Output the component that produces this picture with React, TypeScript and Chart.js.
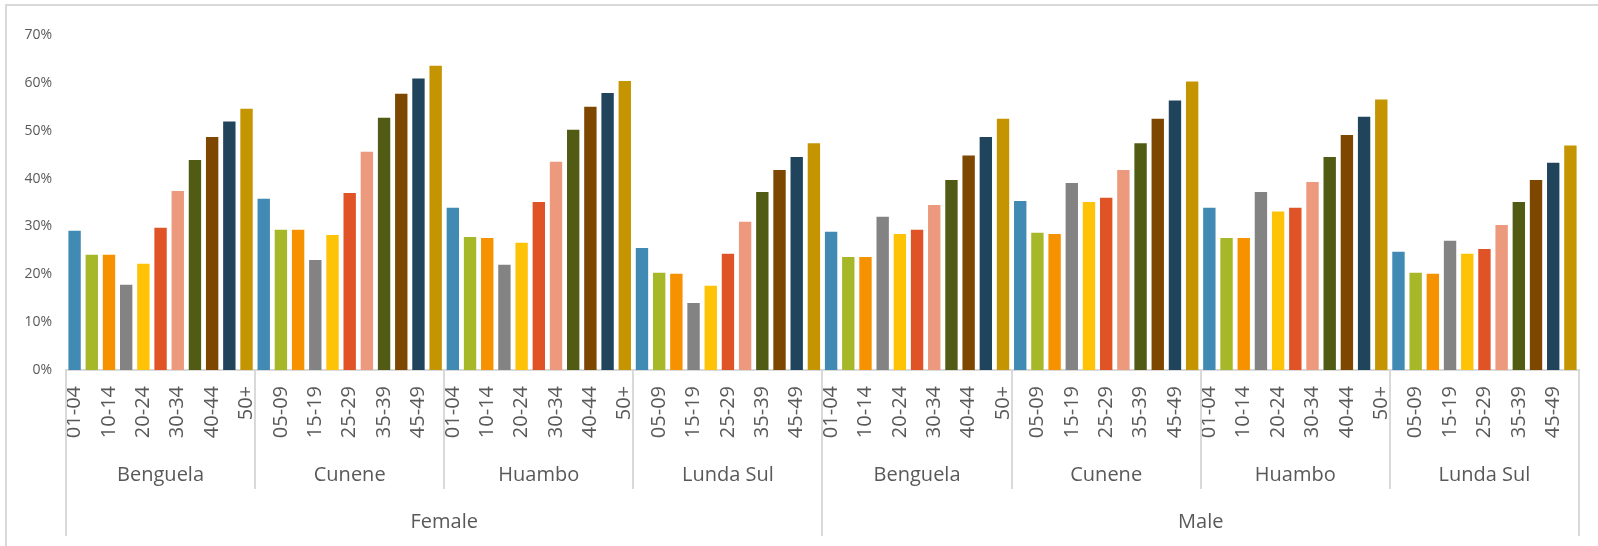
import React, { useEffect, useRef } from 'react';
import { Chart, registerables } from 'chart.js';

Chart.register(...registerables);

const sexes = ['Female', 'Male'];
const regions = ['Benguela', 'Cunene', 'Huambo', 'Lunda Sul'];
const ageGroups = ['01-04', '05-09', '10-14', '15-19', '20-24', '25-29', '30-34', '35-39', '40-44', '45-49', '50+'];
const ageColors = ['#418AB3', '#A6B727', '#F69200', '#838383', '#FEC306', '#DF5327', '#EC997D', '#525B13', '#7D4700', '#20445B', '#C49500'];

const femaleBenguela = [29.1, 24.1, 24.1, 17.8, 22.2, 29.7, 37.4, 43.9, 48.7, 51.9, 54.6];
const femaleCunene = [35.8, 29.3, 29.3, 23.0, 28.2, 37.0, 45.6, 52.7, 57.7, 60.9, 63.6];
const femaleHuambo = [33.9, 27.8, 27.6, 22.0, 26.6, 35.1, 43.5, 50.2, 55.0, 57.9, 60.4];
const femaleLundaSul = [25.5, 20.3, 20.1, 14.0, 17.6, 24.3, 31.0, 37.2, 41.8, 44.5, 47.4];
const maleBenguela = [28.9, 23.6, 23.6, 32.0, 28.4, 29.3, 34.5, 39.7, 44.8, 48.7, 52.5];
const maleCunene = [35.3, 28.7, 28.4, 39.1, 35.1, 36.0, 41.8, 47.4, 52.5, 56.3, 60.3];
const maleHuambo = [33.9, 27.6, 27.6, 37.2, 33.1, 33.9, 39.3, 44.5, 49.1, 52.9, 56.5];
const maleLundaSul = [24.7, 20.3, 20.1, 27.0, 24.3, 25.3, 30.3, 35.1, 39.7, 43.3, 46.9];

const seriesBySex = [
  [femaleBenguela, femaleCunene, femaleHuambo, femaleLundaSul],
  [maleBenguela, maleCunene, maleHuambo, maleLundaSul],
];

const yMax = 70;
const yStep = 10;

const labels: string[] = [];
const values: number[] = [];
const colors: string[] = [];
seriesBySex.forEach((regionSeries) => {
  regionSeries.forEach((arr) => {
    arr.forEach((v, i) => {
      labels.push(ageGroups[i]);
      values.push(v);
      colors.push(ageColors[i]);
    });
  });
});

const LINE = '#d9d9d9';
const TEXT = '#595959';

const groupPlugin = {
  id: 'groupLabels',
  afterDraw(chart: any) {
    const ctx = chart.ctx;
    const area = chart.chartArea;
    const n = ageGroups.length;
    const step = (area.right - area.left) / labels.length;
    ctx.save();
    ctx.fillStyle = LINE;
    // outer chart border (left & top)
    ctx.fillRect(5, 4, 2, chart.height);
    ctx.fillRect(5, 4, chart.width, 2);
    const base = area.bottom;
    const totalGroups = sexes.length * regions.length;
    for (let g = 0; g <= totalGroups; g++) {
      const xp = area.left + g * n * step;
      const isSex = g % regions.length === 0;
      const endY = isSex ? 536 : 489;
      ctx.fillRect(Math.round(xp) - 1, base, 2, endY - base);
    }
    ctx.fillStyle = TEXT;
    ctx.font = '20px "Open Sans"';
    ctx.textAlign = 'center';
    ctx.textBaseline = 'alphabetic';
    for (let s = 0; s < sexes.length; s++) {
      for (let r = 0; r < regions.length; r++) {
        const g = s * regions.length + r;
        const cx = area.left + (g + 0.5) * n * step;
        ctx.fillText(regions[r], cx, 481);
      }
      const sx = area.left + (s + 0.5) * regions.length * n * step;
      ctx.fillText(sexes[s], sx, 528);
    }
    ctx.restore();
  },
};

export default function App() {
  const ref = useRef<HTMLCanvasElement | null>(null);
  useEffect(() => {
    document.body.style.margin = '0';
    if (!ref.current) return;
    const chart = new Chart(ref.current, {
      type: 'bar',
      data: {
        labels,
        datasets: [
          {
            data: values,
            backgroundColor: colors,
            borderWidth: 0,
            barPercentage: 0.72,
            categoryPercentage: 1,
          },
        ],
      },
      options: {
        responsive: false,
        animation: false,
        devicePixelRatio: 1,
        layout: { padding: { top: 35, right: 19, left: 0, bottom: 0 } },
        plugins: { legend: { display: false }, tooltip: { enabled: false } },
        scales: {
          x: {
            grid: { display: false, drawTicks: false },
            border: { display: true, color: LINE, width: 2 },
            ticks: {
              autoSkip: false,
              minRotation: 90,
              maxRotation: 90,
              padding: 16,
              color: TEXT,
              font: { family: 'Open Sans', size: 20 },
              callback: (_v: any, i: number) => (i % 2 === 0 ? labels[i] : ''),
            },
            afterFit: (s: any) => {
              s.height = 176;
              s.paddingLeft = 0;
              s.paddingRight = 0;
            },
          },
          y: {
            min: 0,
            max: yMax,
            grid: { display: false, drawTicks: false },
            border: { display: false },
            ticks: {
              stepSize: yStep,
              padding: 14,
              color: TEXT,
              font: { family: 'Open Sans', size: 14 },
              callback: (v: any) => v + '%',
            },
            afterFit: (s: any) => {
              s.width = 66;
            },
          },
        },
      },
      plugins: [groupPlugin],
    });
    return () => chart.destroy();
  }, []);
  return (
    <div style={{ width: 1598, height: 546 }}>
      <canvas ref={ref} width={1598} height={546} style={{ display: 'block' }} />
    </div>
  );
}
